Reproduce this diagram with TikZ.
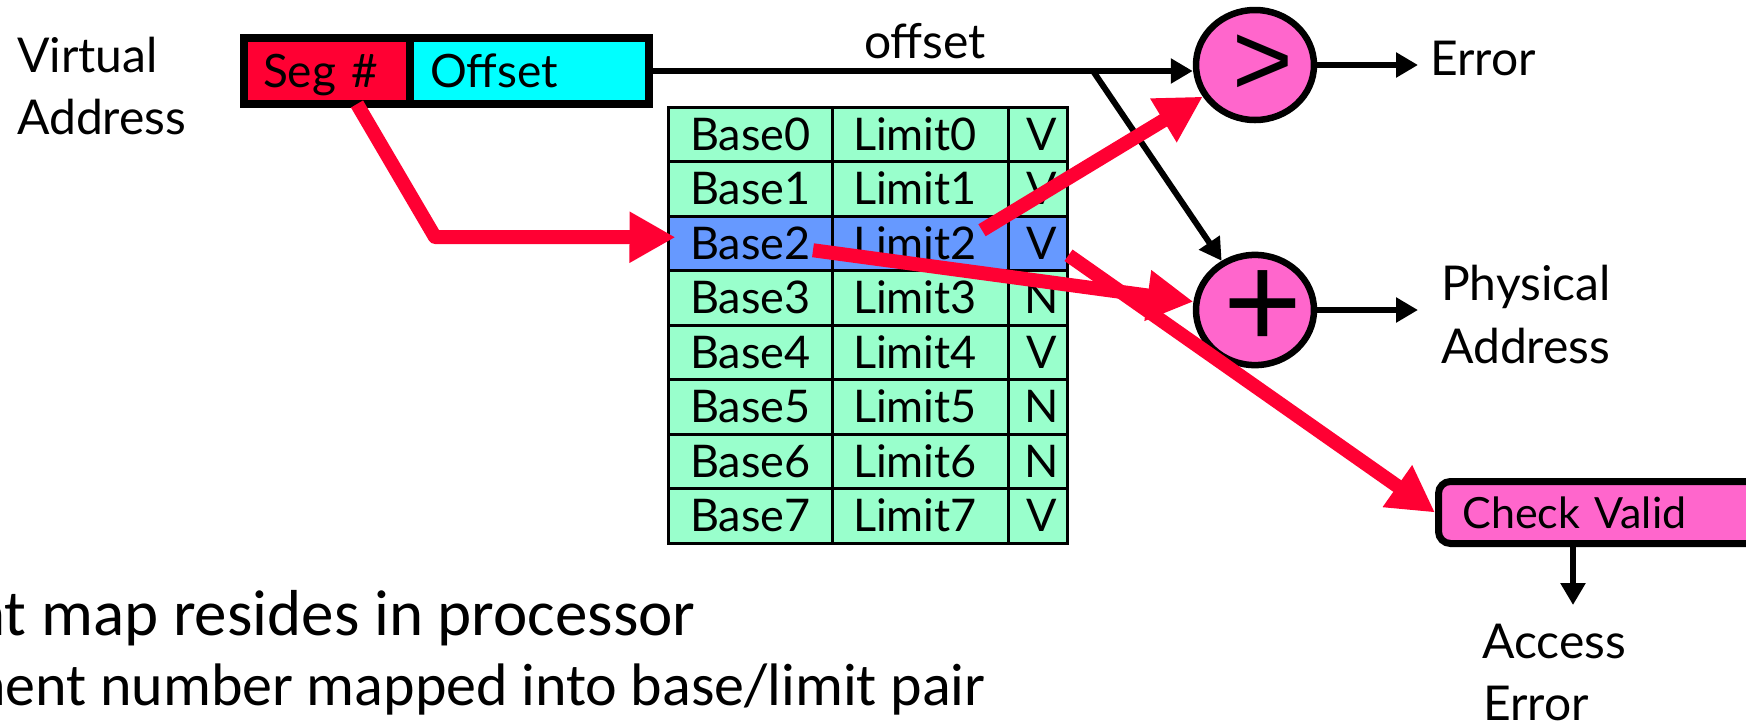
\documentclass[tikz,border=0pt]{standalone}
\usepackage{fontspec}
\setmainfont{Lato}
\newfontfamily\calib{Carlito}
\newfontfamily\opfont{Liberation Sans}
\usetikzlibrary{arrows.meta,shapes.geometric,calc}
\definecolor{segred}{HTML}{FF0033}
\definecolor{segcyan}{HTML}{00FFFF}
\definecolor{mint}{HTML}{99FFCC}
\definecolor{rowblue}{HTML}{6699FF}
\definecolor{oppink}{HTML}{FF66CC}
\begin{document}
\begin{tikzpicture}[x=1pt,y=-1pt,
  lbl/.style={inner sep=0pt, font=\fontsize{48}{58}\selectfont},
  segcell/.style={draw, line width=8pt, minimum height=66pt, inner ysep=0pt, align=left, font=\fontsize{46}{46}\selectfont, text height=33pt, text depth=0pt},
  cell/.style={draw, line width=3pt, minimum height=54.5pt, inner ysep=0pt, font=\fontsize{45}{45}\selectfont, text height=32pt, text depth=0pt},
  basecell/.style={cell, text width=120pt, inner xsep=22pt, align=left},
  limcell/.style={cell, text width=134pt, inner xsep=21pt, align=left},
  flagcell/.style={cell, minimum width=59pt, inner xsep=0pt},
  op/.style={ellipse, draw, line width=6.5pt, fill=oppink, minimum width=118pt, minimum height=110pt, inner sep=0pt},
  blk/.style={draw=black, line width=6pt, -{Triangle[length=22pt,width=24pt]}},
  redarr/.style={draw=segred, line width=14pt, line join=round, -{Triangle[length=46pt,width=48pt]}},
  bottomtxt/.style={inner sep=0pt, anchor=base west, font=\calib\fontsize{#1}{#1}\selectfont}
]
\clip (0,0) rectangle (1746,724);
\fill[white] (0,0) rectangle (1746,724);

% virtual address label
\node[lbl, anchor=base west] (va1) at (17,72) {Virtual};
\node[lbl, anchor=base west] (va2) at (17,134) {Address};

% segment / offset box
\node[segcell, fill=segred, text width=128pt, inner xsep=19pt] (seg) at (327,71) {Seg \#};
\node[segcell, fill=segcyan, text width=199pt, inner xsep=20pt] (off) at (529.5,71) {Offset};

% segment table
\foreach \i/\f/\c in {0/V/mint,1/V/mint,2/V/rowblue,3/N/mint,4/V/mint,5/N/mint,6/N/mint,7/V/mint} {
  \pgfmathsetmacro\yy{134.25+54.5*\i}
  \node[basecell, fill=\c] (b\i) at (750,\yy) {Base\i};
  \node[limcell, fill=\c] (l\i) at (920,\yy) {Limit\i};
  \node[flagcell, fill=\c] (v\i) at (1037.5,\yy) {\hspace{9pt}\f};
}

% comparator and adder
\node[op, font=\opfont\fontsize{104}{104}\selectfont] (gt) at (1255,65) {\hspace*{16pt}>};
\node[op, font=\opfont\fontsize{135}{135}\selectfont] (plus) at (1255,310) {\makebox[40pt]{\hspace*{16pt}\raisebox{-5pt}{+}}};

% right labels
\node[lbl, anchor=base] (offl) at (925,58) {offset};
\node[lbl, anchor=base west] (err) at (1430,75) {Error};
\node[lbl, anchor=base west] (pa1) at (1441,300) {Physical};
\node[lbl, anchor=base west] (pa2) at (1441,363) {Address};

% check valid
\node[draw, line width=7pt, rounded corners=12pt, fill=oppink, minimum height=62pt, inner ysep=0pt, inner xsep=24pt, text width=300pt, align=left, font=\fontsize{43}{43}\selectfont, text height=31pt, text depth=0pt, anchor=west] (cv) at (1435,512.5) {Check Valid};
\coordinate (aetip) at (1573,605);
\node[lbl, anchor=base west] (ae1) at (1482,658) {Access};
\node[lbl, anchor=base west] (ae2) at (1483,720) {Error};

% black connectors
\coordinate (br) at (1093,71);
\draw[blk] (off.east) -- (off.east -| gt.west);
\draw[blk] (br) -- (plus);
\draw[blk] (gt.east) -- ($(err.west |- gt.east)+(-12,0)$);
\draw[blk] (plus.east) -- ($(pa1.west |- plus.east)+(-23,0)$);
\draw[blk] (cv.south -| aetip) -- (aetip);

% red connectors
\draw[redarr] ($(seg.south)+(30,-4)$) -- (435,237) -- ($(b2.west)+(9,-6)$);
\draw[redarr] ($(l2.center)+(62,-13)$) -- (gt);
\draw[redarr] ($(b2.center)+(63,7)$) -- (plus);
\draw[redarr] ($(v2.east)+(0,12)$) -- (cv.west);

% bottom text
\node[bottomtxt=65] (t1) at (-29,635) {nt map resides in processor};
\node[bottomtxt=60] (t2) at (-26,705) {nent number mapped into base/limit pair};
\end{tikzpicture}
\end{document}
